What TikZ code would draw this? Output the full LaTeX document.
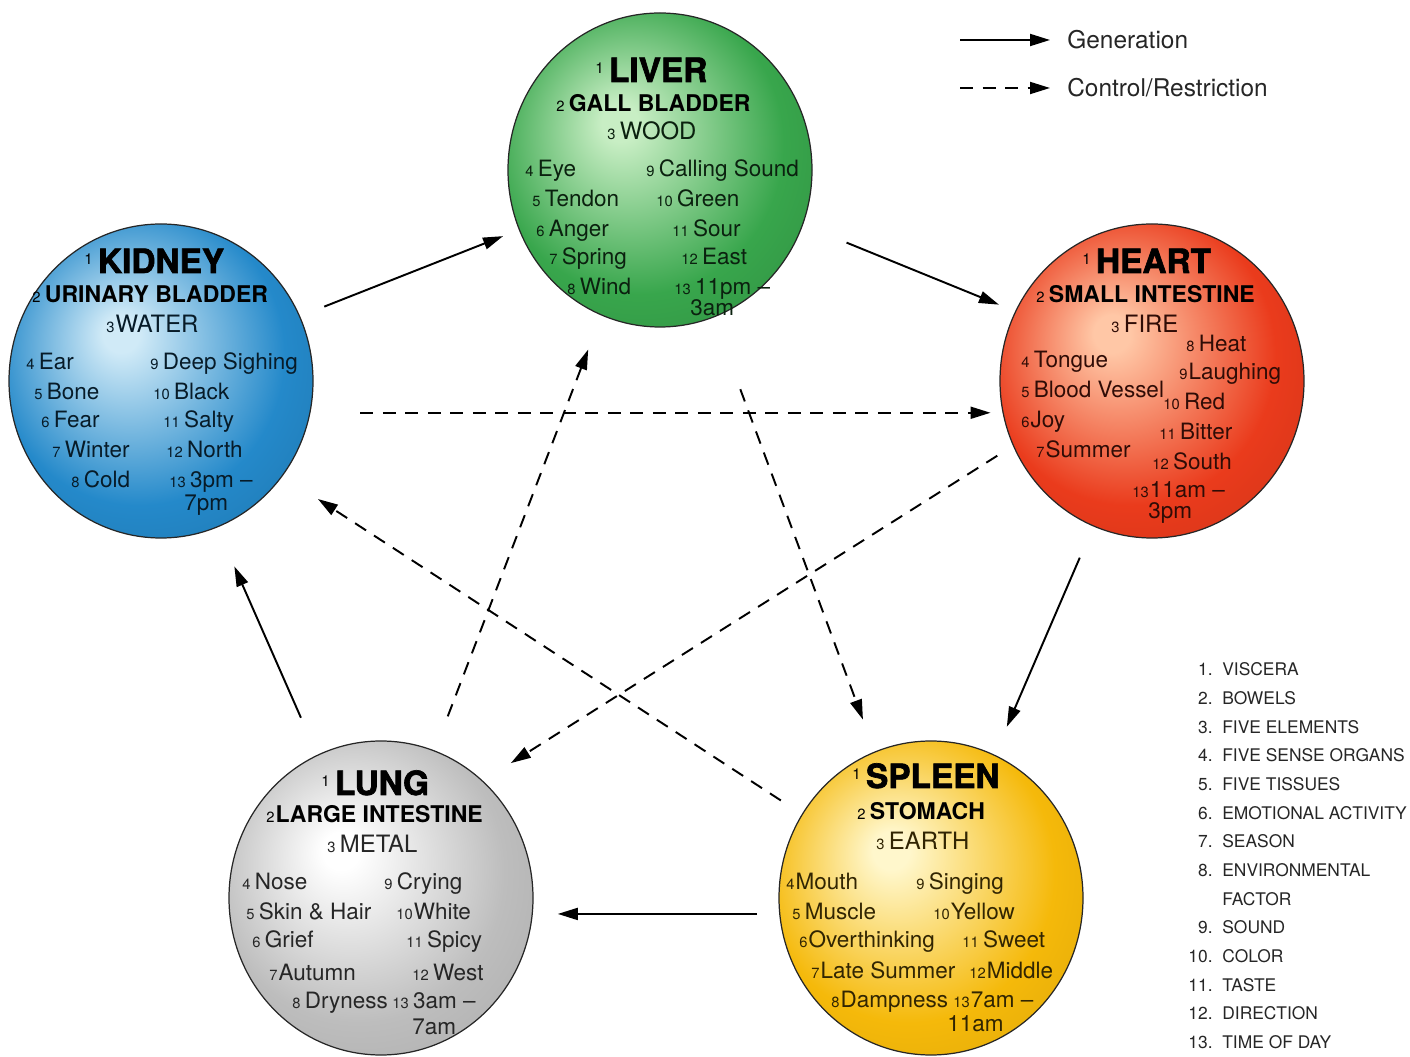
\documentclass[tikz,border=0pt]{standalone}
\usepackage{fontspec}
\setmainfont{TeX Gyre Heros}
\newfontfamily\heavyfont{TeX Gyre Heros}[BoldFeatures={FakeBold=2}]
\usepackage{tikz}
\usetikzlibrary{shapes.geometric,arrows.meta}

\definecolor{livin}{HTML}{C8EEC4}\definecolor{livout}{HTML}{38A64C}
\definecolor{kidin}{HTML}{D0EAF7}\definecolor{kidout}{HTML}{2489CA}
\definecolor{hrtin}{HTML}{FFC7A6}\definecolor{hrtout}{HTML}{EA3B1C}
\definecolor{lunin}{HTML}{FFFFFF}\definecolor{lunout}{HTML}{BDBDBD}
\definecolor{splin}{HTML}{FFF7CC}\definecolor{splout}{HTML}{F5B90A}
\colorlet{livdark}{livout!88!black}
\colorlet{kiddark}{kidout!88!black}
\colorlet{hrtdark}{hrtout!90!black}
\colorlet{lundark}{lunout!92!black}
\colorlet{spldark}{splout!92!black}

\newcommand{\orbshading}[4]{\pgfdeclareradialshading{#1}{\pgfpoint{-7bp}{8bp}}{color(0bp)=(#2);color(3bp)=(#2);color(24bp)=(#3);color(36bp)=(#4);color(50bp)=(#4)}}
\orbshading{livshade}{livin}{livout}{livdark}
\orbshading{kidshade}{kidin}{kidout}{kiddark}
\orbshading{hrtshade}{hrtin}{hrtout}{hrtdark}
\orbshading{lunshade}{lunin}{lunout}{lundark}
\orbshading{splshade}{splin}{splout}{spldark}

% small index numbers
\newcommand{\nr}[1]{{\normalfont\fontsize{8.4}{9}\selectfont#1}\hspace{2.5pt}}
\newcommand{\nrt}[1]{{\normalfont\fontsize{8.4}{9}\selectfont#1}\hspace{0.6pt}}
\newcommand{\tnr}[1]{\raisebox{5pt}{\normalfont\fontsize{8.6}{9}\selectfont#1}\hspace{3pt}}

\tikzset{
  orb/.style={ellipse, draw=black!85, line width=0.7pt, shade, minimum width=60.8mm, minimum height=62.8mm, inner sep=0pt},
  ttl/.style={anchor=base west, inner sep=0pt, text=black, font=\heavyfont\bfseries\fontsize{19}{19}\selectfont},
  sub/.style={anchor=base west, inner sep=0pt, text=black, font=\bfseries\fontsize{13.1}{14}\selectfont},
  elem/.style={anchor=base west, inner sep=0pt, font=\fontsize{13.6}{14}\selectfont},
  itm/.style={anchor=base west, inner sep=0pt, font=\fontsize{12.8}{13}\selectfont},
  lgd/.style={anchor=west, inner sep=0pt, text=black!85, font=\fontsize{13.9}{14}\selectfont},
  gen/.style={-{Triangle[length=4mm,width=2.4mm]}, line width=1.1pt},
  ctl/.style={gen, dash pattern=on 2.6mm off 1.9mm},
}

\begin{document}
\begin{tikzpicture}[x=0.2mm,y=-0.2mm]
\useasboundingbox (0,0) rectangle (1410,1057);

% the five organs
\node[orb, shading=livshade] (liver) at (660,170) {};
\node[orb, shading=kidshade] (kidney) at (161,381) {};
\node[orb, shading=hrtshade] (heart) at (1152,381) {};
\node[orb, shading=lunshade] (lung) at (381,898) {};
\node[orb, shading=splshade] (spleen) at (931,898) {};

% liver
\begin{scope}[text=black!80!livout]
\node[ttl] (liv1) at (595,82) {\tnr{1}LIVER};
\node[sub] (liv2) at (556,112) {\nr{2}GALL BLADDER};
\node[elem] (liv3) at (607,140) {\nr{3}WOOD};
\node[itm] (liv4) at (525,177) {\nr{4}Eye};
\node[itm] (liv5) at (532,207) {\nr{5}Tendon};
\node[itm] (liv6) at (536,237) {\nr{6}Anger};
\node[itm] (liv7) at (549,265) {\nr{7}Spring};
\node[itm] (liv8) at (567,295) {\nr{8}Wind};
\node[itm] (liv9) at (646,177) {\nr{9}Calling Sound};
\node[itm] (liv10) at (656,207) {\nr{10}Green};
\node[itm] (liv11) at (672,237) {\nr{11}Sour};
\node[itm] (liv12) at (681,265) {\nr{12}East};
\node[itm] (liv13) at (674,295) {\nr{13}11pm --};
\node[itm] (liv13b) at (690,316) {3am};
\end{scope}

% kidney
\begin{scope}[text=black!80!kidout]
\node[ttl] (kid1) at (84,273) {\tnr{1}KIDNEY};
\node[sub] (kid2) at (32,303) {\nr{2}URINARY BLADDER};
\node[elem] (kid3) at (106,333) {\nrt{3}WATER};
\node[itm] (kid4) at (26,370) {\nr{4}Ear};
\node[itm] (kid5) at (34,400) {\nr{5}Bone};
\node[itm] (kid6) at (41,428) {\nr{6}Fear};
\node[itm] (kid7) at (52,458) {\nr{7}Winter};
\node[itm] (kid8) at (71,488) {\nr{8}Cold};
\node[itm] (kid9) at (150,370) {\nr{9}Deep Sighing};
\node[itm] (kid10) at (153,400) {\nr{10}Black};
\node[itm] (kid11) at (163,428) {\nr{11}Salty};
\node[itm] (kid12) at (166,458) {\nr{12}North};
\node[itm] (kid13) at (169,488) {\nr{13}3pm --};
\node[itm] (kid13b) at (184,511) {7pm};
\end{scope}

% heart
\begin{scope}[text=black!80!hrtout]
\node[ttl] (hrt1) at (1082,273) {\tnr{1}HEART};
\node[sub] (hrt2) at (1036,303) {\nr{2}SMALL INTESTINE};
\node[elem] (hrt3) at (1111,333) {\nr{3}FIRE};
\node[itm] (hrt4) at (1021,368) {\nr{4}Tongue};
\node[itm] (hrt5) at (1021,398) {\nr{5}Blood Vessel};
\node[itm] (hrt6) at (1021,428) {\nrt{6}Joy};
\node[itm] (hrt7) at (1036,458) {\nrt{7}Summer};
\node[itm] (hrt8) at (1186,352) {\nr{8}Heat};
\node[itm] (hrt9) at (1179,380) {\nrt{9}Laughing};
\node[itm] (hrt10) at (1163,410) {\nr{10}Red};
\node[itm] (hrt11) at (1159,440) {\nr{11}Bitter};
\node[itm] (hrt12) at (1152,470) {\nr{12}South};
\node[itm] (hrt13) at (1132,498) {\nrt{13}11am --};
\node[itm] (hrt13b) at (1148,519) {3pm};
\end{scope}

% lung
\begin{scope}[text=black!85]
\node[ttl] (lun1) at (321,795) {\tnr{1}LUNG};
\node[sub] (lun2) at (266,823) {\nrt{2}LARGE INTESTINE};
\node[elem] (lun3) at (327,853) {\nr{3}METAL};
\node[itm] (lun4) at (242,890) {\nr{4}Nose};
\node[itm] (lun5) at (246,920) {\nr{5}Skin \& Hair};
\node[itm] (lun6) at (252,948) {\nr{6}Grief};
\node[itm] (lun7) at (269,980) {\nrt{7}Autumn};
\node[itm] (lun8) at (292,1008) {\nr{8}Dryness};
\node[itm] (lun9) at (384,890) {\nr{9}Crying};
\node[itm] (lun10) at (396,920) {\nrt{10}White};
\node[itm] (lun11) at (406,948) {\nr{11}Spicy};
\node[itm] (lun12) at (412,980) {\nr{12}West};
\node[itm] (lun13) at (392,1008) {\nr{13}3am --};
\node[itm] (lun13b) at (412,1034) {7am};
\end{scope}

% spleen
\begin{scope}[text=black!80!splout]
\node[ttl] (spl1) at (852,788) {\tnr{1}SPLEEN};
\node[sub] (spl2) at (857,820) {\nr{2}STOMACH};
\node[elem] (spl3) at (876,850) {\nr{3}EARTH};
\node[itm] (spl4) at (786,890) {\nrt{4}Mouth};
\node[itm] (spl5) at (792,920) {\nr{5}Muscle};
\node[itm] (spl6) at (799,948) {\nrt{6}Overthinking};
\node[itm] (spl7) at (811,978) {\nrt{7}Late Summer};
\node[itm] (spl8) at (831,1007) {\nrt{8}Dampness};
\node[itm] (spl9) at (916,890) {\nr{9}Singing};
\node[itm] (spl10) at (933,920) {\nrt{10}Yellow};
\node[itm] (spl11) at (962,948) {\nr{11}Sweet};
\node[itm] (spl12) at (969,978) {\nrt{12}Middle};
\node[itm] (spl13) at (953,1007) {\nrt{13}7am --};
\node[itm] (spl13b) at (947,1031) {11am};
\end{scope}

% generation cycle
\draw[gen, shorten <=5.2mm, shorten >=3.4mm] (kidney.25.5) -- (liver.203.7);
\draw[gen, shorten <=9.4mm, shorten >=3.5mm] (liver.-21.4) -- (heart.153.2);
\draw[gen, shorten <=6.8mm, shorten >=6.1mm] (heart.-112.3) -- (spleen.66.5);
\draw[gen, shorten <=4.4mm, shorten >=5mm] (spleen.186.3) -- (lung.-6.3);
\draw[gen, shorten <=8.1mm, shorten >=8.5mm] (lung.114.7) -- (kidney.-69.2);

% control cycle
\draw[ctl, shorten <=10mm, shorten >=2.4mm] (kidney.-12.7) -- (heart.192.8);
\draw[ctl, shorten <=7.3mm, shorten >=7.3mm] (lung.70) -- (liver.-112);
\draw[ctl, shorten <=15.3mm, shorten >=6.8mm] (liver.-70.6) -- (spleen.111.6);
\draw[ctl, shorten <=3.7mm, shorten >=6.6mm] (heart.205.4) -- (lung.49.3);
\draw[ctl, shorten <=5mm, shorten >=8.4mm] (spleen.147) -- (kidney.-38.3);

% legend
\node[lgd] (genlbl) at (1067,40) {Generation};
\node[lgd] (ctllbl) at (1067,88) {Control/Restriction};
\coordinate (gen0) at (960,40);
\coordinate (ctl0) at (960,88);
\draw[gen, shorten >=3.4mm] (gen0) -- (genlbl.west);
\draw[ctl, shorten >=3.4mm] (ctl0) -- (ctllbl.west);

% key to the numbers
\node[anchor=base east, inner sep=0pt, text=black!85, font=\fontsize{9.9}{16.3}\selectfont] (keynum) at (1213,676)
  {\begin{tabular}[t]{@{}r@{}}1.\\2.\\3.\\4.\\5.\\6.\\7.\\8.\\ \\9.\\10.\\11.\\12.\\13.\end{tabular}};
\node[anchor=base west, inner sep=0pt, text=black!85, font=\fontsize{9.9}{16.3}\selectfont] (keytxt) at (1222,676)
  {\begin{tabular}[t]{@{}l@{}}VISCERA\\BOWELS\\FIVE ELEMENTS\\FIVE SENSE ORGANS\\FIVE TISSUES\\EMOTIONAL ACTIVITY\\SEASON\\ENVIRONMENTAL\\FACTOR\\SOUND\\COLOR\\TASTE\\DIRECTION\\TIME OF DAY\end{tabular}};
\end{tikzpicture}
\end{document}
